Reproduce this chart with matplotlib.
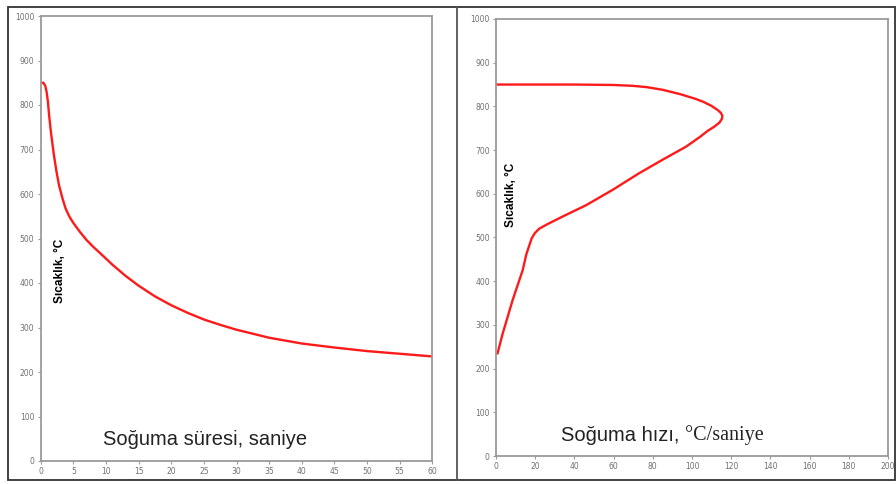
import matplotlib.pyplot as plt
from matplotlib.patches import Rectangle
from matplotlib.lines import Line2D

# cooling time curve (left)
sure_s = [0, 0.4, 0.7, 0.9, 1.1, 1.3, 1.6, 2.0, 2.4, 2.8, 3.3, 3.8, 4.4, 5,
          6, 7, 8, 9.4, 11, 13, 15, 17.5, 20, 22.5, 25, 27.5, 30, 35, 40, 45,
          50, 55, 60]
sure_T = [850, 850, 843, 830, 808, 775, 735, 690, 652, 620, 592, 568, 549, 535,
          515, 497, 482, 463, 441, 416, 394, 370, 350, 333, 318, 306, 295, 277,
          264, 255, 247, 241, 235]

# cooling rate curve (right)
hiz = [0, 40, 60, 70, 77, 85, 94, 102, 106, 110, 113, 114.8, 115.5, 115.2,
       114, 111.5, 108, 104, 97, 85, 73, 59.5, 46, 34, 26, 22, 19.8, 18.2,
       15.5, 13.6, 8.5, 3.4, 0.8]
hiz_T = [850, 850, 849, 847, 844, 838, 828, 817, 810, 801, 792, 785, 778, 771,
         763, 754, 744, 730, 708, 678, 647, 609, 574, 548, 530, 520, 510, 498,
         462, 425, 357, 280, 235]

y_ticks = list(range(0, 1001, 100))
x1_ticks = list(range(0, 61, 5))
x2_ticks = list(range(0, 201, 20))

GRAY = "#9a9a9a"
RED = "#ff1a1a"

fig = plt.figure(figsize=(8.96, 4.84), dpi=100)
W, H = 896, 484


def px_axes(x0, y0, x1, y1):
    return fig.add_axes([x0 / W, 1 - y1 / H, (x1 - x0) / W, (y1 - y0) / H])


def style(ax, xt, xmax):
    ax.set_xlim(0, xmax)
    ax.set_ylim(0, 1000)
    ax.set_xticks(xt)
    ax.set_yticks(y_ticks)
    for s in ax.spines.values():
        s.set_color(GRAY)
        s.set_linewidth(1.3)
    ax.tick_params(direction="out", length=2.5, width=0.8, color=GRAY,
                   labelsize=5.5, labelcolor="#707070", pad=2)


ax1 = px_axes(40.7, 16, 432.3, 461)
style(ax1, x1_ticks, 60)
ax1.plot(sure_s, sure_T, color=RED, lw=1.7, solid_joinstyle="round")
ax1.text(3.0, 427, "Sıcaklık, °C", rotation=90, ha="center", va="center",
         fontsize=8.5, fontweight="bold", family="Liberation Sans")
ax1.text(9.5, 48, "Soğuma süresi, saniye", ha="left", va="center",
         fontsize=14.5, family="Liberation Sans", color="#222222")

ax2 = px_axes(496, 19, 888, 456)
style(ax2, x2_ticks, 200)
ax2.plot(hiz, hiz_T, color=RED, lw=1.7, solid_joinstyle="round")
ax2.text(7.7, 597, "Sıcaklık, °C", rotation=90, ha="center", va="center",
         fontsize=8.5, fontweight="bold", family="Liberation Sans")
t1 = ax2.text(33, 47, "Soğuma hızı, ", ha="left", va="center",
              fontsize=14.5, family="Liberation Sans", color="#222222")
ax2.annotate("°C/saniye", xy=(1, 0), xycoords=t1, ha="left", va="bottom",
             fontsize=14.5, family="Liberation Serif", color="#222222")

# outer frame and divider
fig.patches.append(Rectangle((8 / W, 1 - 480 / H), 887 / W, 473 / H,
                             transform=fig.transFigure, fill=False,
                             edgecolor="#333333", lw=1.3))
fig.lines.append(Line2D([457 / W, 457 / W], [1 - 480 / H, 1 - 7 / H],
                        transform=fig.transFigure, color="#555555", lw=1.3))

fig.savefig("out.png", dpi=100)
